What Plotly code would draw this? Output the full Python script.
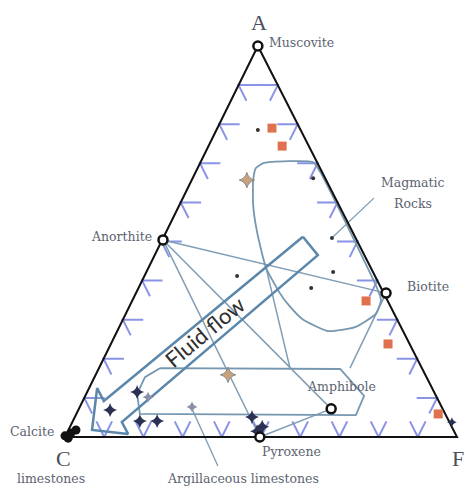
import plotly.graph_objects as go

# positions in the diagram: x = % along the C-F base, y = % towards apex A
apex_x = 49.2
corner_x = [0, 100, apex_x, 0]
corner_y = [0, 0, 100, 0]

# end-member minerals (open circles)
mineral_names = ['Muscovite', 'Anorthite', 'Biotite', 'Amphibole', 'Pyroxene']
mineral_x = [49.2, 25.0, 81.9, 67.9, 49.7]
mineral_y = [100, 50.4, 36.8, 7.2, 0]

# calcite (limestones)
calcite_x = [0.0, 1.5, 2.8, 0.8]
calcite_y = [0.3, 1.0, 1.8, -0.3]

# samples
orange_x = [52.8, 55.4, 76.8, 82.4, 95.2]
orange_y = [79.0, 74.4, 34.8, 23.8, 5.9]
dot_x = [49.2, 43.9, 68.4, 62.8, 63.3, 68.1]
dot_y = [78.5, 41.2, 42.2, 38.1, 66.2, 50.9]
tan_x = [46.4, 41.6]
tan_y = [65.7, 15.9]
star_x = [18.4, 11.5, 19.1, 23.5, 47.7, 50.3, 49.0]
star_y = [11.5, 6.9, 4.1, 4.1, 5.1, 2.6, 1.5]
grey_x = [21.2, 32.4]
grey_y = [10.2, 7.7]
small_x = [98.7]
small_y = [3.8]

# tie lines between minerals
tie_x = [25.0, 81.9, None, 25.0, 49.7, None, 25.0, 67.9, None, 67.9, 49.7, None, 81.9, 72.7, None, 51.3, 57.4]
tie_y = [50.4, 36.8, None, 50.4, 0, None, 50.4, 7.2, None, 7.2, 0, None, 36.8, 17.6, None, 43.2, 17.6]

# magmatic rocks field
magma_x = [50.8, 63.3, 65.1, 79.6, 80.6, 79.3, 74.0, 67.1, 60.5, 56.6, 54.8, 51.3, 49.0, 48.0, 48.0, 48.7, 50.8]
magma_y = [70.1, 70.3, 67.8, 38.1, 35.0, 31.5, 28.1, 27.1, 30.2, 34.3, 36.8, 43.2, 52.4, 59.3, 65.7, 68.8, 70.1]

# lower field around amphibole
low_x = [24.2, 70.2, 76.3, 74.2, 19.1, 18.4, 20.4, 24.2]
low_y = [17.6, 17.4, 10.5, 5.6, 5.9, 11.0, 15.3, 17.6]

# fluid flow arrow
arrow_x = [60.7, 64.5, 14.5, 16.1, 6.9, 8.2, 9.9, 60.7]
arrow_y = [51.2, 46.5, 3.8, 0.8, 1.8, 12.5, 9.2, 51.2]

# label leaders
leader_x = [78.8, 68.4, None, 39.0, 32.4]
leader_y = [61.1, 51.2, None, -7.4, 7.2]

levels = [10, 20, 30, 40, 50, 60, 70, 80, 90]

# blue "V" marks along the three edges
vx, vy = [], []
for L in levels:
    vx += [L - 2.0, L, L + 2.0, None]
    vy += [4.0, 0, 4.0, None]
    ex = apex_x * L / 100
    vx += [ex + 5.2, ex, ex + 2.0, None]
    vy += [L, L, L - 4.0, None]
    ex = 100 - (100 - apex_x) * L / 100
    vx += [ex - 5.2, ex, ex - 2.0, None]
    vy += [L, L, L - 4.0, None]

fig = go.Figure()
fig.add_trace(go.Scatter(x=vx, y=vy, mode='lines', line=dict(color='#8a94e6', width=2), hoverinfo='skip'))
fig.add_trace(go.Scatter(x=tie_x, y=tie_y, mode='lines', line=dict(color='#7f9db5', width=1.5), hoverinfo='skip'))
fig.add_trace(go.Scatter(x=leader_x, y=leader_y, mode='lines', line=dict(color='#7f9db5', width=1.3), hoverinfo='skip'))
fig.add_trace(go.Scatter(x=magma_x, y=magma_y, mode='lines', line=dict(color='#7597b0', width=1.8, shape='spline', smoothing=0.5), hoverinfo='skip'))
fig.add_trace(go.Scatter(x=low_x, y=low_y, mode='lines', line=dict(color='#7597b0', width=1.8), hoverinfo='skip'))
fig.add_trace(go.Scatter(x=arrow_x, y=arrow_y, mode='lines', line=dict(color='#5b87aa', width=2.5), hoverinfo='skip'))
fig.add_trace(go.Scatter(x=corner_x, y=corner_y, mode='lines', line=dict(color='#111111', width=2), hoverinfo='skip'))

fig.add_trace(go.Scatter(x=orange_x, y=orange_y, mode='markers', marker=dict(symbol='square', size=9, color='#e0714f')))
fig.add_trace(go.Scatter(x=dot_x, y=dot_y, mode='markers', marker=dict(symbol='circle', size=4, color='#333333')))
fig.add_trace(go.Scatter(x=tan_x, y=tan_y, mode='markers', marker=dict(symbol='star-diamond', size=11, color='#c8a27c', line=dict(color='#888888', width=1))))
fig.add_trace(go.Scatter(x=star_x, y=star_y, mode='markers', marker=dict(symbol='star-diamond', size=10, color='#2b3152')))
fig.add_trace(go.Scatter(x=grey_x, y=grey_y, mode='markers', marker=dict(symbol='star-diamond', size=8, color='#8a90a8')))
fig.add_trace(go.Scatter(x=small_x, y=small_y, mode='markers', marker=dict(symbol='star-diamond', size=7, color='#2b3152')))
fig.add_trace(go.Scatter(x=calcite_x, y=calcite_y, mode='markers', marker=dict(symbol='circle', size=9, color='#111111')))
fig.add_trace(go.Scatter(x=mineral_x, y=mineral_y, mode='markers', marker=dict(symbol='circle', size=9, color='white', line=dict(color='#111111', width=2.5))))

serif = dict(family='DejaVu Serif', size=12.5, color='#5c6370')
big = dict(family='Liberation Serif', size=22, color='#4a505a')
labels = [
    ('A', 49.5, 106.1, 'center', big),
    ('Muscovite', 51.5, 101.0, 'left', serif),
    ('Magmatic', 88.8, 65.0, 'center', serif),
    ('Rocks', 88.8, 59.8, 'center', serif),
    ('Anorthite', 22.7, 51.4, 'right', serif),
    ('Biotite', 86.7, 38.4, 'left', serif),
    ('Amphibole', 61.2, 13.0, 'left', serif),
    ('Pyroxene', 49.7, -3.8, 'left', serif),
    ('Calcite', -14.5, 1.3, 'left', serif),
    ('C', -0.3, -5.6, 'center', big),
    ('F', 100.2, -5.6, 'center', big),
    ('limestones', -3.6, -10.5, 'center', serif),
    ('Argillaceous limestones', 45.4, -10.5, 'center', serif),
]
for text, x, y, anchor, font in labels:
    fig.add_annotation(x=x, y=y, text=text, showarrow=False, xanchor=anchor, yanchor='middle', font=font)

fig.add_annotation(x=35.7, y=26.9, text='Fluid flow', showarrow=False, textangle=-40,
                   font=dict(family='Lato', size=22, color='#2e2e2e'))

fig.update_layout(width=465, height=490, margin=dict(l=0, r=0, t=0, b=0),
                  plot_bgcolor='white', paper_bgcolor='white', showlegend=False,
                  xaxis=dict(range=[-16.58, 102.04], visible=False),
                  yaxis=dict(range=[-13.55, 111.76], visible=False))
# drop the page's default body margin so the figure sits at the window corner
fig.write_html("out.html", config={'displayModeBar': False},
               post_script="document.body.style.margin='0';")
